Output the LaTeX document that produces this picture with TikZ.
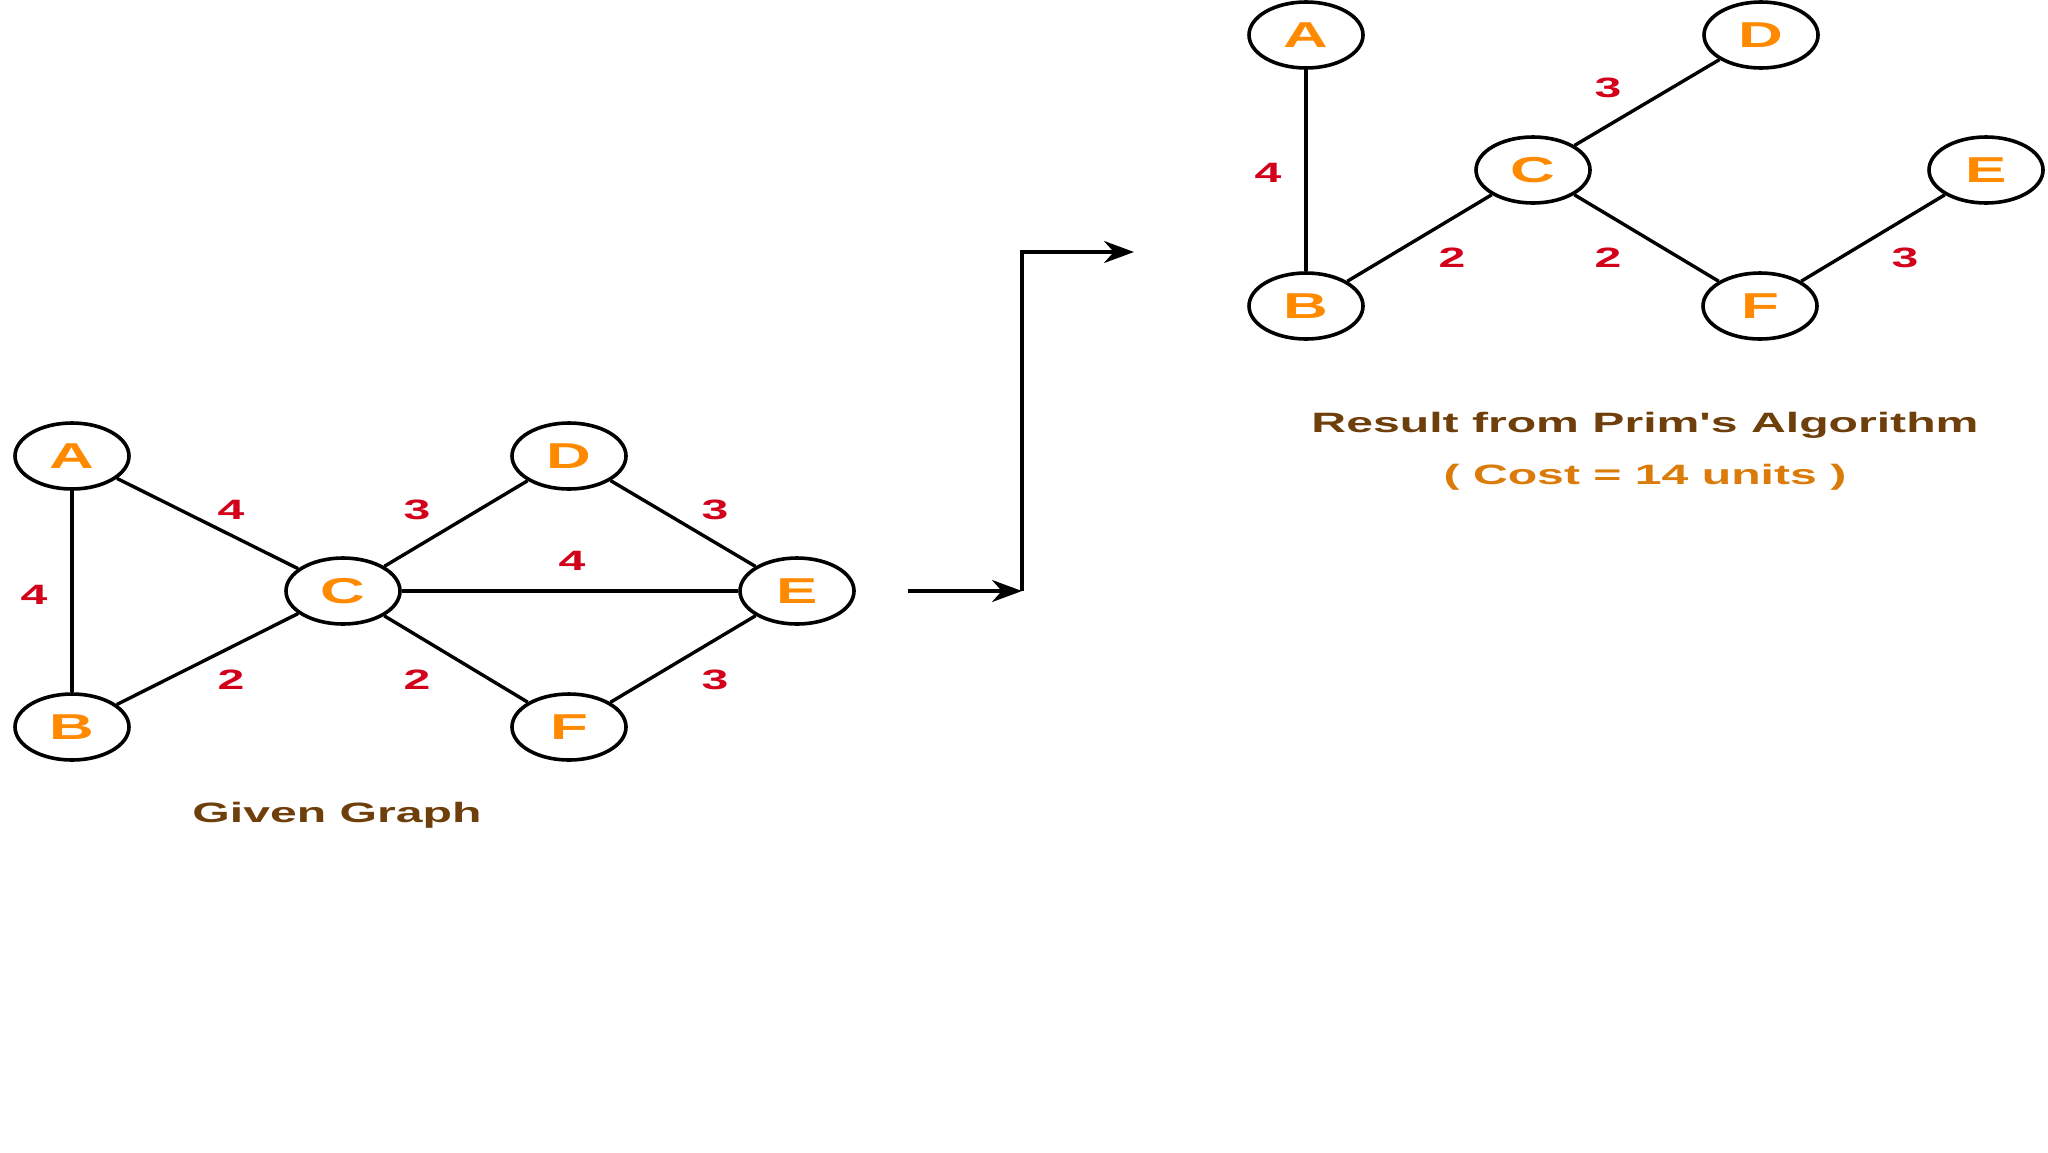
\documentclass[tikz,border=0pt]{standalone}
\usepackage{fontspec}
\setmainfont{Liberation Sans}
\usepackage{graphicx}
\usepackage{textcomp}
\usepackage{tikz}
\usetikzlibrary{arrows.meta,positioning,shapes.geometric}
\definecolor{vtx}{HTML}{FF8A00}
\definecolor{wtred}{HTML}{D2001A}
\definecolor{capbrown}{HTML}{6E3F0A}
\definecolor{costor}{HTML}{DA7B0A}
\newcommand{\wideTxt}[1]{\scalebox{1.72}[1]{#1}}
\tikzset{
  vert/.style={ellipse, draw=black, line width=1.8pt, fill=white,
               minimum width=57pt, minimum height=33pt, inner sep=0pt,
               text=vtx, font=\fontsize{18}{20}\selectfont\bfseries},
  edge/.style={draw=black, line width=1.7pt},
  wt/.style={text=wtred, inner sep=0pt, font=\fontsize{14}{16}\selectfont\bfseries},
  capt/.style={text=capbrown, inner sep=0pt, font=\fontsize{14}{16}\selectfont\bfseries},
  cost/.style={text=costor, inner sep=0pt, font=\fontsize{14}{16}\selectfont\bfseries},
  flow/.style={-{Stealth[length=15pt, width=11pt]}, draw=black, line width=1.9pt}
}
\begin{document}
\begin{tikzpicture}[x=0.5pt, y=-0.5pt]
  \useasboundingbox (0,0) rectangle (2048,1152);
  % given graph
  \node[vert] (A) at (72,456) {\wideTxt{A}};
  \node[vert] (B) at (72,727) {\wideTxt{B}};
  \node[vert] (C) at (343,591) {\wideTxt{C}};
  \node[vert] (D) at (569,456) {\wideTxt{D}};
  \node[vert] (E) at (797,591) {\wideTxt{E}};
  \node[vert] (F) at (569,727) {\wideTxt{F}};
  \foreach \a/\b/\w/\x/\y in {A/B/4/34/595, A/C/4/231/510, B/C/2/231/680,
      C/D/3/417/510, C/F/2/417/680, C/E/4/572/561, D/E/3/715/510, F/E/3/715/680}
    {\draw[edge] (\a)--(\b);
     \node[wt] (w\a\b) at (\x,\y) {\wideTxt{\w}};}
  \node[capt] (given) at (337,815) {\wideTxt{Given Graph}};
  % arrow
  \coordinate (s) at (908,591);
  \coordinate (k) at (1022,591);
  \coordinate (t) at (1134,252);
  \draw[flow] (s) -- (k);
  \draw[flow] (k) |- (t);
  % result of prim
  \node[vert] (pA) at (1306,35) {\wideTxt{A}};
  \node[vert] (pB) at (1306,306) {\wideTxt{B}};
  \node[vert] (pC) at (1533,170) {\wideTxt{C}};
  \node[vert] (pD) at (1761,35) {\wideTxt{D}};
  \node[vert] (pE) at (1986,170) {\wideTxt{E}};
  \node[vert] (pF) at (1760,306) {\wideTxt{F}};
  \foreach \a/\b/\w/\x/\y in {pA/pB/4/1268/173, pB/pC/2/1452/258,
      pC/pD/3/1608/88, pC/pF/2/1608/258, pF/pE/3/1905/258}
    {\draw[edge] (\a)--(\b);
     \node[wt] (w\a\b) at (\x,\y) {\wideTxt{\w}};}
  \node[capt] (result) at (1645,425) {\wideTxt{Result from Prim\textquotesingle s Algorithm}};
  \node[cost] (total) at (1645,477) {\wideTxt{( Cost = 14 units )}};
\end{tikzpicture}
\end{document}
